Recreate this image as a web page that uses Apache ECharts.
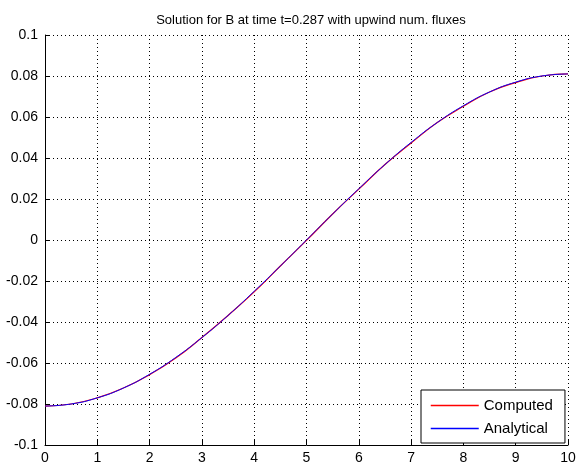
<!DOCTYPE html>
<html>
<head>
<meta charset="utf-8">
<script src="https://cdn.jsdelivr.net/npm/echarts@6/dist/echarts.min.js"></script>
<style>
html,body{margin:0;padding:0;background:#fff;}
#main{width:588px;height:471px;}
</style>
</head>
<body>
<div id="main"></div>
<script>
// x positions and values
var xs = [0, 0.5, 1, 1.5, 2, 2.5, 3, 3.5, 4, 4.5, 5, 5.5, 6, 6.5, 7, 7.5, 8, 8.5, 9, 9.5, 10];
var analytical = [-0.081, -0.080, -0.077, -0.0722, -0.0655, -0.0573, -0.0476, -0.0368, -0.025, -0.0127, 0.0,
  0.0127, 0.025, 0.0368, 0.0476, 0.0573, 0.0655, 0.0722, 0.077, 0.080, 0.081];
var computed = [-0.081, -0.080, -0.077, -0.0722, -0.0657, -0.0576, -0.0476, -0.0368, -0.0253, -0.0127, -0.0002,
  0.0127, 0.0248, 0.0368, 0.0473, 0.0573, 0.0652, 0.0722, 0.0768, 0.080, 0.081];
var xTicks = [0, 1, 2, 3, 4, 5, 6, 7, 8, 9, 10];
var yTicks = [-0.1, -0.08, -0.06, -0.04, -0.02, 0, 0.02, 0.04, 0.06, 0.08, 0.1];

function pairs(a, b) {
  var out = [];
  for (var i = 0; i < a.length; i++) out.push([a[i], b[i]]);
  return out;
}

var font = 'Liberation Sans, Arial, sans-serif';
var dotted = {color: '#000', type: [1, 3], width: 1};

var chart = echarts.init(document.getElementById('main'));
var option = {
  animation: false,
  title: {
    text: 'Solution for B at time t=0.287 with upwind num. fluxes',
    left: 306, top: 9, textAlign: 'center',
    textStyle: {fontFamily: font, fontSize: 13, fontWeight: 'normal', color: '#000'}
  },
  grid: {left: 45, right: 20, top: 35, bottom: 26, containLabel: false},
  xAxis: {
    type: 'value', min: xTicks[0], max: xTicks[xTicks.length - 1], interval: 1,
    axisLine: {onZero: false, lineStyle: {color: '#000', width: 1}},
    axisTick: {inside: true, length: 5, lineStyle: {color: '#000'}},
    axisLabel: {color: '#000', fontFamily: font, fontSize: 14, margin: 6},
    splitLine: {show: true, lineStyle: dotted}
  },
  yAxis: {
    type: 'value', min: yTicks[0], max: yTicks[yTicks.length - 1], interval: 0.02,
    axisLine: {show: true, onZero: false, lineStyle: {color: '#000', width: 1}},
    axisTick: {show: true, inside: true, length: 5, lineStyle: {color: '#000'}},
    axisLabel: {color: '#000', fontFamily: font, fontSize: 14, margin: 7},
    splitLine: {show: true, lineStyle: dotted}
  },
  legend: {
    orient: 'vertical', left: 421, top: 390,
    padding: [8, 12, 7, 9], itemGap: 8,
    itemWidth: 48, itemHeight: 14,
    backgroundColor: '#fff', borderColor: '#000', borderWidth: 1,
    itemStyle: {opacity: 0},
    lineStyle: {width: 1.5},
    textStyle: {fontFamily: font, fontSize: 15, color: '#000'},
    data: ['Computed', 'Analytical']
  },
  series: [
    {
      name: 'Computed', type: 'line', data: pairs(xs, computed), symbol: 'none',
      smooth: 0.5, lineStyle: {color: '#ff0000', width: 1.2}, itemStyle: {color: '#ff0000'}
    },
    {
      name: 'Analytical', type: 'line', data: pairs(xs, analytical), symbol: 'none',
      smooth: 0.5, lineStyle: {color: '#0000ff', width: 1}, itemStyle: {color: '#0000ff'}
    }
  ]
};
chart.setOption(option);
</script>
</body>
</html>
